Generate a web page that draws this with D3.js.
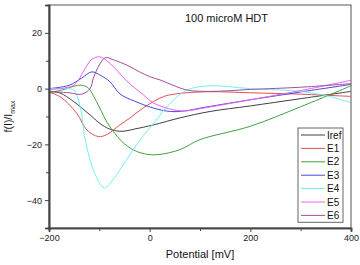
<!DOCTYPE html>
<html>
<head>
<meta charset="utf-8">
<script src="https://cdn.jsdelivr.net/npm/d3@7"></script>
<style>
  body { margin: 0; background: #fff; }
  svg { display: block; font-family: "Liberation Sans", Arial, sans-serif; }
</style>
</head>
<body>
<svg width="360" height="265"></svg>
<script>
// potential [mV] and f(I)/Imax
const seriesNames = ["Iref", "E1", "E2", "E3", "E4", "E5", "E6"];
const seriesColors = ["#404040", "#e05050", "#40a040", "#4848d8", "#70f0f0", "#f060f0", "#a050a0"];

const iref = [[-200,-1],[-178,-1.6],[-152,-4.5],[-118,-9.5],[-95,-13],[-75,-14.8],[-55,-15.3],[-30,-14.5],[8,-13],[60,-10.5],[120,-8.2],[200,-6.2],[300,-3.6],[400,-1]];
const e1 = [[-200,-1.3],[-178,-2.9],[-145,-8.8],[-125,-14.8],[-102,-17.2],[-85,-16.5],[-72,-14.8],[-59,-13],[-39,-10.5],[-15,-7.2],[8,-4.6],[30,-2.7],[61,-1.7],[120,-1.1],[200,-1.5],[300,-2],[400,-2.8]];
const e2 = [[-200,-1.5],[-170,-0.3],[-150,0.9],[-135,1.2],[-122,0.3],[-112,-2.5],[-99,-7],[-85,-12],[-72,-15.4],[-55,-19],[-32,-22],[-10,-23.4],[15,-23.7],[60,-21.9],[100,-18.3],[200,-13.5],[300,-6.5],[400,1]];
const e3 = [[-200,0],[-160,1.2],[-135,3.8],[-115,6],[-98,4.8],[-79,2.5],[-59,-1.9],[-30,-4.5],[8,-7],[41,-8.2],[70,-8],[100,-7],[200,-4],[300,-1.2],[400,1.5]];
const e4 = [[-200,0],[-165,0],[-151,-0.5],[-138,-6.4],[-128,-18.3],[-110,-30],[-90,-35.6],[-70,-32],[-50,-26.6],[-17,-18],[8,-12.4],[41,-5.2],[74,-0.5],[120,1],[200,0],[300,-1],[350,-2.5],[400,-5]];
const e5 = [[-200,-0.3],[-150,1.3],[-130,6.7],[-115,10.5],[-99,11.4],[-85,10],[-70,7.5],[-46,2.8],[-12,-2.3],[8,-5.2],[47,-7.6],[70,-8],[100,-7.2],[200,-4],[300,-0.7],[400,3]];
const e6 = [[-200,-1],[-160,-1.5],[-135,-2],[-118,0.1],[-112,3.7],[-100,8.5],[-88,11.1],[-70,10.2],[-46,8.5],[-20,6],[0,4.3],[21,3.1],[45,1.3],[74,-0.5],[120,-1],[200,-0.3],[300,0.5],[400,1.8]];
const allSeries = [iref, e1, e2, e3, e4, e5, e6];

const xTicks = [-200, 0, 200, 400];
const xMinor = [-100, 100, 300];
const yTicks = [-40, -20, 0, 20];
const yMinor = [-50, -30, -10, 10];

const svg = d3.select("svg");
const m = { left: 49, top: 5, right: 9, bottom: 37 };
const W = 360 - m.left - m.right, H = 265 - m.top - m.bottom;

const x = d3.scaleLinear().domain([-200, 400]).range([0, W]);
const y = d3.scaleLinear().domain([-50, 30]).range([H, 0]);

const g = svg.append("g").attr("transform", `translate(${m.left},${m.top})`);

g.append("clipPath").attr("id", "clip")
  .append("rect").attr("width", W).attr("height", H);

const line = d3.line()
  .x(d => x(d[0]))
  .y(d => y(d[1]))
  .curve(d3.curveCatmullRom.alpha(0.5));

g.append("g").attr("clip-path", "url(#clip)")
  .selectAll("path")
  .data(allSeries)
  .join("path")
    .attr("d", line)
    .attr("fill", "none")
    .attr("stroke", (d, i) => seriesColors[i])
    .attr("stroke-width", 1);

// frame
g.append("rect").attr("width", W).attr("height", H)
  .attr("fill", "none").attr("stroke", "#555").attr("stroke-width", 1);

// axes
g.append("g").attr("transform", `translate(0,${H})`)
  .call(d3.axisBottom(x).tickValues(xTicks).tickSize(4).tickPadding(3).tickFormat(d3.format("d")));
g.append("g").attr("transform", `translate(0,${H})`)
  .call(d3.axisBottom(x).tickValues(xMinor).tickSize(3).tickFormat(""));
g.append("g")
  .call(d3.axisLeft(y).tickValues(yTicks).tickSize(4).tickPadding(3).tickFormat(d3.format("d")));
g.append("g")
  .call(d3.axisLeft(y).tickValues(yMinor).tickSize(3).tickFormat(""));

g.selectAll(".domain").attr("stroke", "#444").attr("stroke-width", 1.6);
g.selectAll(".tick line").attr("stroke", "#444");
g.selectAll(".tick text").attr("font-size", 9).attr("fill", "#222")
  .attr("font-family", "Liberation Sans, Arial, sans-serif");

// title inside the plot
g.append("text").attr("x", x(70)).attr("y", 17)
  .attr("font-size", 11).attr("fill", "#111").text("100 microM HDT");

// axis titles
svg.append("text").attr("x", m.left + W / 2).attr("y", 258)
  .attr("text-anchor", "middle").attr("font-size", 11).attr("fill", "#111")
  .text("Potential [mV]");

const yl = svg.append("text")
  .attr("transform", `translate(12,${m.top + H / 2}) rotate(-90)`)
  .attr("text-anchor", "middle").attr("font-size", 10.5).attr("fill", "#111");
yl.append("tspan").text("f(I)/I");
yl.append("tspan").attr("font-size", 7).attr("dy", 3).text("max");

// legend
const lx = 298, ly = 128, lw = 45, rowH = 13.4;
const leg = svg.append("g");
leg.append("rect").attr("x", lx).attr("y", ly).attr("width", lw)
  .attr("height", rowH * seriesNames.length + 0.5)
  .attr("fill", "#fff").attr("stroke", "#666").attr("stroke-width", 1);
const rows = leg.selectAll("g.row").data(seriesNames).join("g")
  .attr("transform", (d, i) => `translate(${lx},${ly + 7 + i * rowH})`);
rows.append("line").attr("x1", 3).attr("x2", 27)
  .attr("stroke", (d, i) => seriesColors[i]).attr("stroke-width", 1);
rows.append("text").attr("x", 29).attr("y", 3.5)
  .attr("font-size", 10).attr("fill", "#111").text(d => d);
</script>
</body>
</html>
